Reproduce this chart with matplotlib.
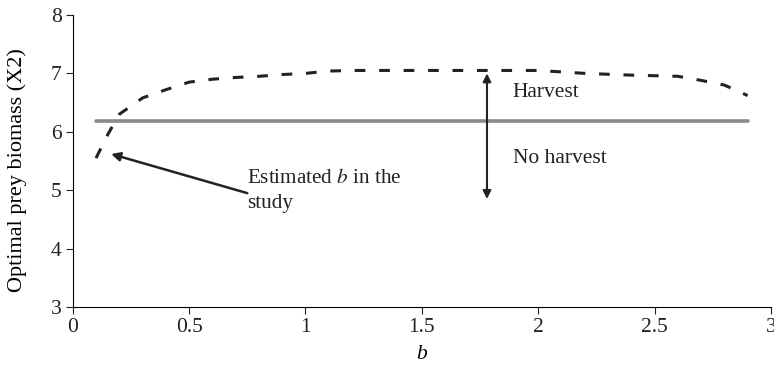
import matplotlib.pyplot as plt

plt.rcParams['font.family'] = ['Liberation Serif', 'DejaVu Serif']
plt.rcParams['mathtext.fontset'] = 'stix'

# optimal prey biomass vs b
b_values = [0.10, 0.15, 0.20, 0.30, 0.40, 0.50, 0.60, 0.70, 0.80, 0.90, 1.00,
            1.10, 1.20, 1.40, 1.60, 1.80, 2.00, 2.20, 2.40, 2.60, 2.70, 2.80, 2.90]
x2_values = [5.55, 5.95, 6.30, 6.58, 6.72, 6.85, 6.90, 6.93, 6.95, 6.98, 7.00,
             7.04, 7.05, 7.05, 7.05, 7.05, 7.05, 7.00, 6.97, 6.95, 6.88, 6.80, 6.62]
threshold_x = [0.10, 2.90]
threshold_y = [6.18, 6.18]

fig = plt.figure(figsize=(7.74, 3.74), dpi=100)
ax = fig.add_axes([0.094, 0.179, 0.902, 0.781])

ax.plot(b_values, x2_values, color='#222222', lw=2.2, dashes=(3.5, 4.5))
ax.plot(threshold_x, threshold_y, color='#8a8a8a', lw=2.6, solid_capstyle='round')

# harvest / no harvest arrow
ax.annotate('', xy=(1.78, 7.0), xytext=(1.78, 4.85),
            arrowprops=dict(arrowstyle='<|-|>', color='#222222', lw=1.5,
                            mutation_scale=12, shrinkA=0, shrinkB=0))
ax.text(1.89, 6.68, 'Harvest', fontsize=15.5, va='center', color='#222222')
ax.text(1.89, 5.55, 'No harvest', fontsize=15.5, va='center', color='#222222')

ax.annotate('', xy=(0.165, 5.62), xytext=(0.75, 4.95),
            arrowprops=dict(arrowstyle='-|>', color='#222222', lw=1.8,
                            mutation_scale=13, shrinkA=0, shrinkB=0))
ax.text(0.75, 5.36, 'Estimated $\\it{b}$ in the\nstudy', fontsize=15.2,
        va='top', ha='left', color='#222222', linespacing=1.45)

ax.set_xlim(0, 3)
ax.set_ylim(3, 8)
ax.set_xticks([0, 0.5, 1, 1.5, 2, 2.5, 3])
ax.set_xticklabels(['0', '0.5', '1', '1.5', '2', '2.5', '3'])
ax.set_yticks([3, 4, 5, 6, 7, 8])
ax.spines['top'].set_visible(False)
ax.spines['right'].set_visible(False)
ax.tick_params(direction='out', length=5, labelsize=15.5, colors='#222222', pad=3)
ax.set_xlabel('b', fontsize=15.5, style='italic', labelpad=6)
ax.set_ylabel('Optimal prey biomass (X2)', fontsize=16, va='center')
ax.yaxis.set_label_coords(-0.079, 0.469)

plt.savefig('out.png', dpi=100)
